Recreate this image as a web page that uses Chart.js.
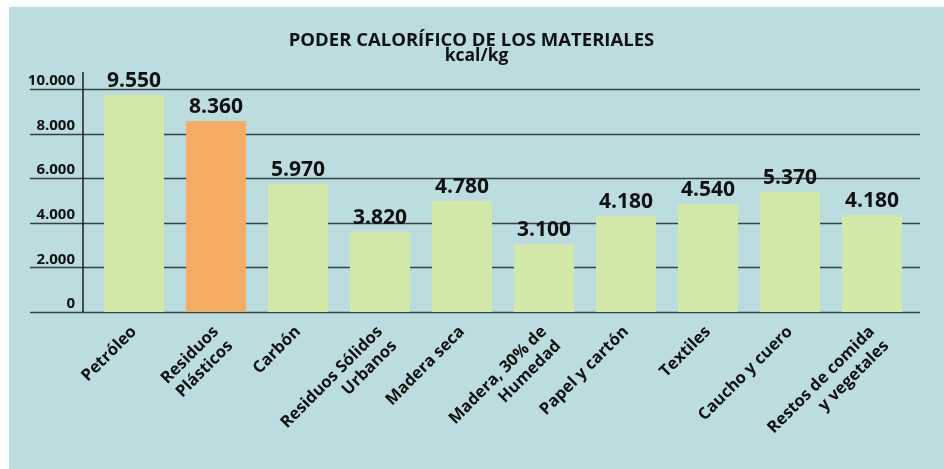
<!DOCTYPE html>
<html lang="es">
<head>
<meta charset="utf-8">
<title>Poder calorífico de los materiales</title>
<script src="https://cdn.jsdelivr.net/npm/chart.js@4.4.1/dist/chart.umd.min.js"></script>
<style>
  html, body { margin: 0; padding: 0; background: #fff; }
  #wrap { width: 944px; height: 469px; }
</style>
</head>
<body>
<div id="wrap"><canvas id="grafico"></canvas></div>
<script>
// datos del gráfico
const materiales = [
  'Petróleo', ['Residuos', 'Plásticos'], 'Carbón', ['Residuos Sólidos', 'Urbanos'], 'Madera seca',
  ['Madera, 30% de', 'Humedad'], 'Papel y cartón', 'Textiles', 'Caucho y cuero', ['Restos de comida', 'y vegetales']
];
// etiquetas tal como aparecen encima de cada barra
const etiquetas = ['9.550', '8.360', '5.970', '3.820', '4.780', '3.100', '4.180', '4.540', '5.370', '4.180'];
// altura con que está dibujada cada barra en el original (kcal/kg)
const alturas = [9740, 8570, 5740, 3600, 4980, 3040, 4300, 4840, 5380, 4350];
const destacado = 1; // Residuos Plásticos va en naranja
const ticksY = [0, 2000, 4000, 6000, 8000, 10000];

const titulo = 'PODER CALORÍFICO DE LOS MATERIALES';
const unidad = 'kcal/kg';

const FUENTE = "'Open Sans', 'DejaVu Sans', sans-serif";
const TEXTO = '#111';

function formatoMiles(v) {
  return String(v).replace(/\B(?=(\d{3})+(?!\d))/g, '.');
}

// fondo, rejilla y eje vertical
const fondoPlugin = {
  id: 'fondo',
  beforeDraw(chart) {
    const ctx = chart.ctx;
    ctx.save();
    ctx.fillStyle = '#ffffff';
    ctx.fillRect(0, 0, chart.width, chart.height);
    ctx.fillStyle = '#bbdddf';
    ctx.fillRect(9, 7, chart.width - 9, chart.height - 7);
    ctx.restore();
  },
  beforeDatasetsDraw(chart) {
    const ctx = chart.ctx;
    const y = chart.scales.y;
    const area = chart.chartArea;
    ctx.save();
    ctx.strokeStyle = '#354242';
    ctx.lineWidth = 1.6;
    ticksY.forEach(v => {
      const py = Math.round(y.getPixelForValue(v)) + 0.5;
      ctx.beginPath();
      ctx.moveTo(30, py);
      ctx.lineTo(area.right + 7, py);
      ctx.stroke();
    });
    // eje vertical
    ctx.strokeStyle = '#111';
    ctx.lineWidth = 1.4;
    ctx.beginPath();
    ctx.moveTo(area.left - 10, y.getPixelForValue(10000) - 17);
    ctx.lineTo(area.left - 10, y.getPixelForValue(0));
    ctx.stroke();
    ctx.restore();
  },
  afterDatasetsDraw(chart) {
    const ctx = chart.ctx;
    const meta = chart.getDatasetMeta(0);
    ctx.save();
    ctx.fillStyle = TEXTO;
    ctx.textAlign = 'center';
    ctx.textBaseline = 'alphabetic';
    ctx.font = "bold 21px " + FUENTE;
    meta.data.forEach((bar, i) => {
      ctx.fillText(etiquetas[i], bar.x, bar.y - 8);
    });
    // título
    const cx = (9 + chart.width) / 2;
    ctx.font = "bold 18.5px " + FUENTE;
    ctx.textBaseline = 'middle';
    ctx.fillText(titulo, cx - 5, 41);
    ctx.font = "bold 17.5px " + FUENTE;
    ctx.fillText(unidad, cx, 56);
    ctx.restore();
  }
};

new Chart(document.getElementById('grafico'), {
  type: 'bar',
  data: {
    labels: materiales,
    datasets: [{
      data: alturas,
      backgroundColor: alturas.map((_, i) => i === destacado ? '#f5ad66' : '#d2e8a8'),
      borderWidth: 0,
      barPercentage: 0.732,
      categoryPercentage: 1
    }]
  },
  options: {
    responsive: true,
    maintainAspectRatio: false,
    animation: false,
    layout: { padding: { top: 89, right: 31, left: 0, bottom: 0 } },
    plugins: {
      legend: { display: false },
      tooltip: { enabled: false }
    },
    scales: {
      x: {
        grid: { display: false, drawTicks: false },
        border: { display: false },
        ticks: {
          autoSkip: false,
          maxRotation: 45,
          minRotation: 45,
          padding: 10,
          color: TEXTO,
          font: { family: FUENTE, size: 16.5, weight: 'bold', lineHeight: 1.22 }
        },
        afterFit(scale) { scale.height = 157; }
      },
      y: {
        min: 0,
        max: 10000,
        afterBuildTicks(scale) { scale.ticks = ticksY.map(v => ({ value: v })); },
        grid: { display: false, drawTicks: false },
        border: { display: false },
        ticks: {
          padding: 18,
          labelOffset: -8,
          color: TEXTO,
          font: { family: FUENTE, size: 15, weight: 'bold' },
          callback: v => formatoMiles(v)
        },
        afterFit(scale) { scale.width = 93; }
      }
    }
  },
  plugins: [fondoPlugin]
});
</script>
</body>
</html>
